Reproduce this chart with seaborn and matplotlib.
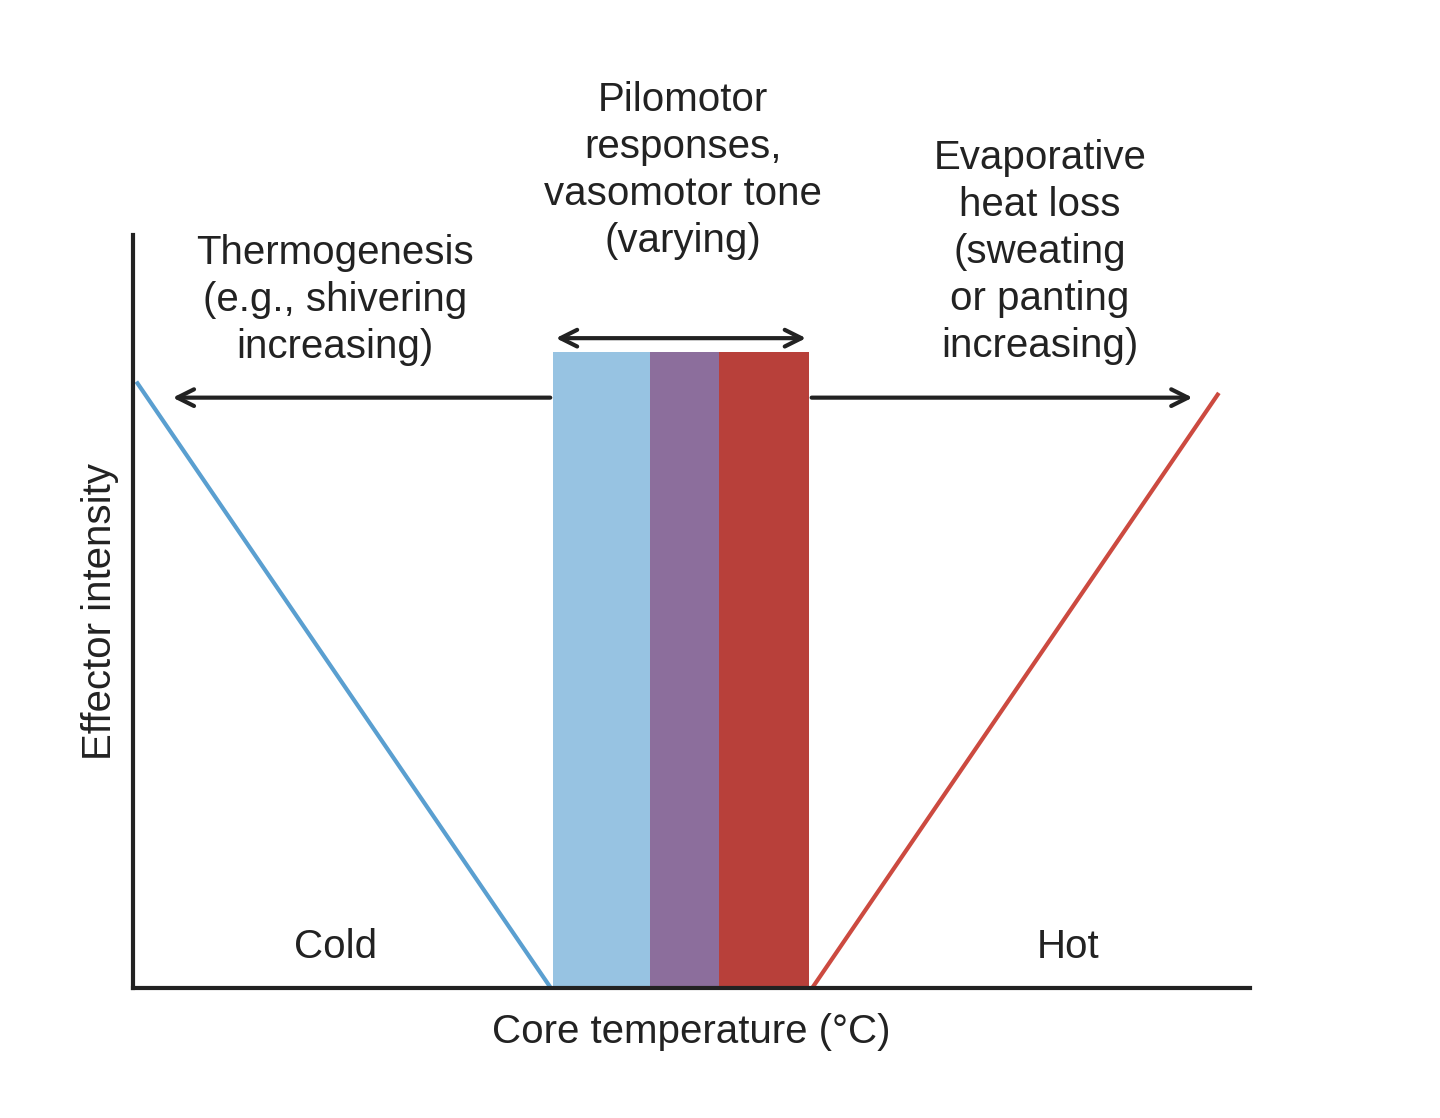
import matplotlib
matplotlib.use("Agg")
import matplotlib.pyplot as plt
import seaborn as sns
import pandas as pd

cold_x = [0.4, 37.4]; cold_y = [80.3, 0]
hot_x = [60.8, 97.1]; hot_y = [0, 78.8]
bar_left = [37.6, 46.3, 52.5]; bar_right = [46.3, 52.5, 60.5]; bar_top = [84.5, 84.5, 84.5]
bar_colors = ["#97c3e2", "#8c6e9c", "#b8403a"]

plt.rcParams["font.family"] = "Liberation Sans"
fig = plt.figure(figsize=(14.4, 11.18), dpi=100)
ax = fig.add_axes([0.0924, 0.1163, 0.7757, 0.6735])
sns.lineplot(x=cold_x, y=cold_y, ax=ax, color="#5a9fd0", lw=3)
sns.lineplot(x=hot_x, y=hot_y, ax=ax, color="#cc4a40", lw=3)
for l, r, t, c in zip(bar_left, bar_right, bar_top, bar_colors):
    ax.bar(l, t, width=r - l, align="edge", color=c, lw=0)
ax.set_xlim(0, 100); ax.set_ylim(0, 100)
ax.set_xticks([]); ax.set_yticks([])
for s in ["top", "right"]:
    ax.spines[s].set_visible(False)
for s in ["left", "bottom"]:
    ax.spines[s].set_linewidth(3); ax.spines[s].set_color("#222")
ap = dict(arrowstyle="->", lw=3, color="#222", mutation_scale=30)
ax.annotate("", xy=(3.3, 78.4), xytext=(37.6, 78.4), arrowprops=ap)
ax.annotate("", xy=(95.1, 78.4), xytext=(60.5, 78.4), arrowprops=ap)
ax.annotate("", xy=(37.6, 86.3), xytext=(60.5, 86.3),
            arrowprops=dict(arrowstyle="<->", lw=3, color="#222", mutation_scale=30), annotation_clip=False)
fs = 29
kw = dict(ha="center", va="center", fontsize=fs, linespacing=1.3, color="#222", clip_on=False)
ax.text(18.1, 91.4, "Thermogenesis\n(e.g., shivering\nincreasing)", **kw)
ax.text(49.2, 108.6, "Pilomotor\nresponses,\nvasomotor tone\n(varying)", **kw)
ax.text(81.2, 97.7, "Evaporative\nheat loss\n(sweating\nor panting\nincreasing)", **kw)
ax.text(18.1, 5.4, "Cold", **kw)
ax.text(83.7, 5.4, "Hot", **kw)
ax.set_xlabel("Core temperature (°C)", fontsize=fs, color="#222", labelpad=18)
ax.set_ylabel("Effector intensity", fontsize=fs, color="#222", labelpad=10)
fig.savefig("out.png", dpi=100)
